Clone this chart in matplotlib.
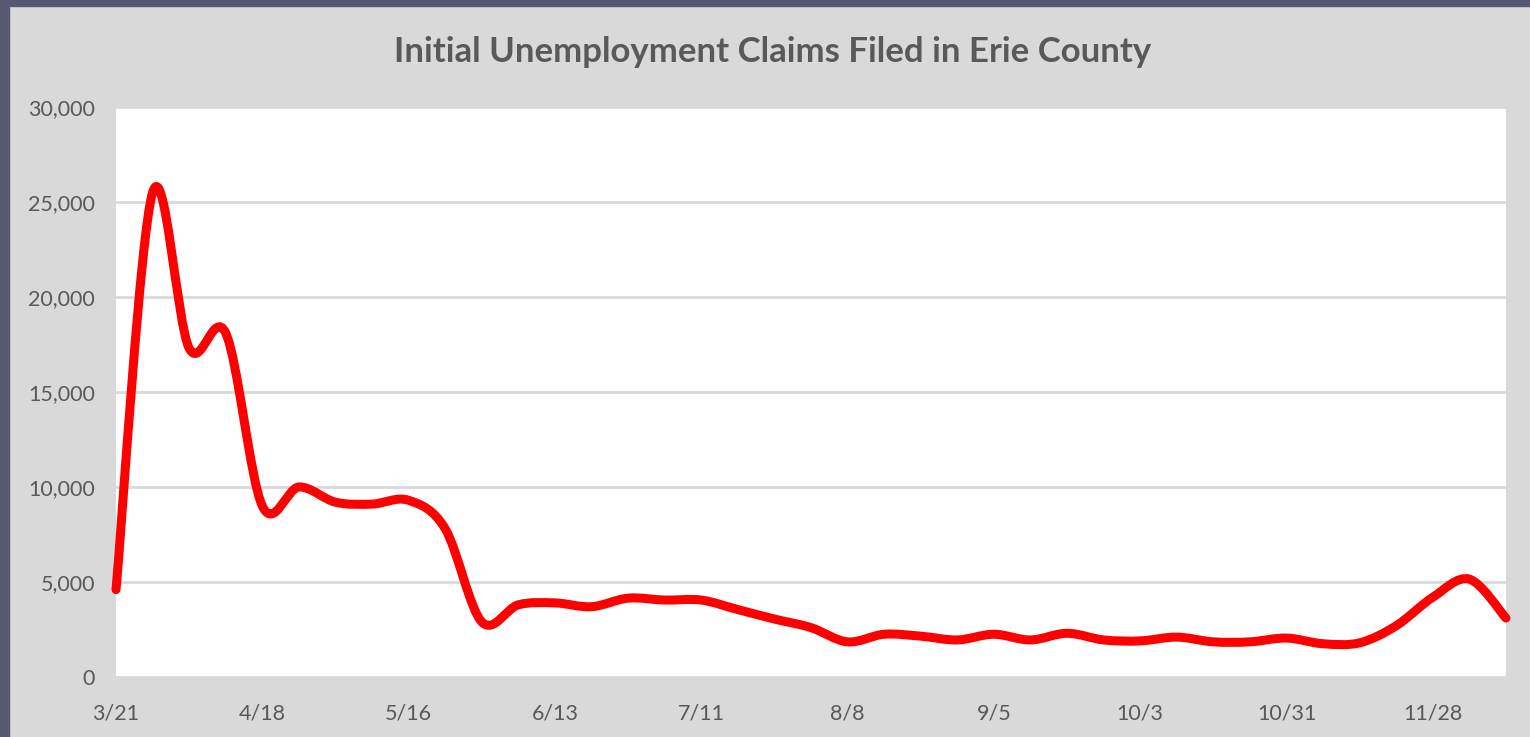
import matplotlib.pyplot as plt
from matplotlib.path import Path
from matplotlib.patches import PathPatch, Rectangle
from matplotlib.ticker import FuncFormatter

# Weekly initial claims, week ending 3/21 through 12/12
claims = [4600, 25500, 17300, 18100, 9000, 10000, 9200, 9100, 9300, 7800,
          2900, 3800, 3900, 3700, 4150, 4050, 4050, 3550, 3050, 2600,
          1850, 2250, 2150, 1950, 2250, 1950, 2300, 1950, 1900, 2100,
          1850, 1850, 2050, 1750, 1800, 2700, 4200, 5150, 3100]
week = list(range(len(claims)))

tick_weeks = [0, 4, 8, 12, 16, 20, 24, 28, 32, 36]
tick_labels = ["3/21", "4/18", "5/16", "6/13", "7/11", "8/8", "9/5", "10/3", "10/31", "11/28"]

grey_txt = "#595959"

fig = plt.figure(figsize=(15.3, 7.37), dpi=100, facecolor="#d9d9d9")

# dark window frame on top and left
fig.patches.append(Rectangle((0, 1 - 6 / 737), 1, 6 / 737, transform=fig.transFigure,
                             color="#585872", zorder=10))
fig.patches.append(Rectangle((0, 0), 9 / 1530, 1, transform=fig.transFigure,
                             color="#585872", zorder=10))

ax = fig.add_axes([116 / 1530, 60 / 737, 1390 / 1530, 570 / 737])
ax.set_facecolor("white")

# smoothed line like Excel: cubic bezier through every point
pts = list(zip(week, claims))
verts = [pts[0]]
codes = [Path.MOVETO]
n = len(pts)
for i in range(n - 1):
    p0 = pts[max(i - 1, 0)]
    p1 = pts[i]
    p2 = pts[i + 1]
    p3 = pts[min(i + 2, n - 1)]
    c1 = (p1[0] + (p2[0] - p0[0]) / 6, p1[1] + (p2[1] - p0[1]) / 6)
    c2 = (p2[0] - (p3[0] - p1[0]) / 6, p2[1] - (p3[1] - p1[1]) / 6)
    verts += [c1, c2, p2]
    codes += [Path.CURVE4] * 3

ax.add_patch(PathPatch(Path(verts, codes), fill=False, edgecolor="#ff0000",
                       linewidth=6.5, capstyle="round", joinstyle="round",
                       zorder=3, clip_on=False))

ax.set_xlim(0, len(claims) - 1)
ax.set_ylim(0, 30000)
ax.set_yticks(range(0, 30001, 5000))
ax.yaxis.set_major_formatter(FuncFormatter(lambda v, p: f"{int(v):,}"))
ax.set_xticks(tick_weeks)
ax.set_xticklabels(tick_labels)

ax.grid(axis="y", color="#d9d9d9", linewidth=2)
ax.set_axisbelow(True)
for s in ax.spines.values():
    s.set_visible(False)
ax.tick_params(length=0, labelsize=15.5, labelcolor=grey_txt)
ax.tick_params(axis="y", pad=15)
ax.tick_params(axis="x", pad=19)
for lab in ax.get_xticklabels() + ax.get_yticklabels():
    lab.set_family("Lato")

fig.text(0.505, 0.930, "Initial Unemployment Claims Filed in Erie County",
         ha="center", va="center", fontsize=25, fontweight="bold",
         color=grey_txt, family="Lato")

fig.savefig("out.png", dpi=100, facecolor=fig.get_facecolor())
